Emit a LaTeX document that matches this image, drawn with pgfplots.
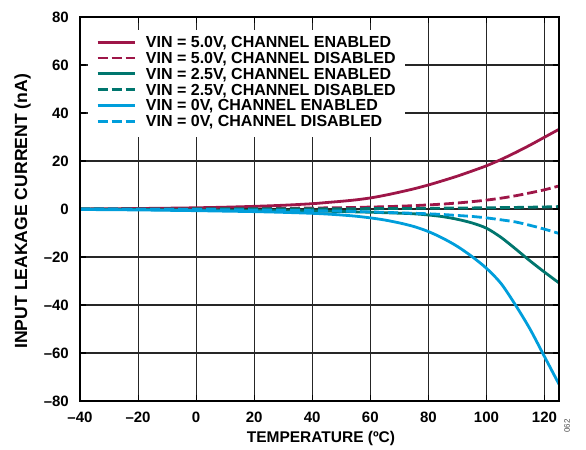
\documentclass[border=0pt]{standalone}
\usepackage{fontspec}
\setmainfont{Liberation Sans}
\usepackage{pgfplots}
\pgfplotsset{compat=1.18}
\definecolor{cred}{RGB}{158,22,72}
\definecolor{cteal}{RGB}{0,118,110}
\definecolor{cblue}{RGB}{0,158,219}
\tikzset{ddash/.style={dash pattern=on 10pt off 4pt}}
\pgfplotsset{
 layers/mylayers/.define layer set={axis background,axis grid,legendmask,axis ticks,pre main,main,axis lines,axis tick labels,axis descriptions,axis foreground}{
  grid style={/pgfplots/on layer=axis grid},
  tick style={/pgfplots/on layer=axis ticks},
  axis line style={/pgfplots/on layer=axis lines},
  label style={/pgfplots/on layer=axis descriptions},
  legend style={/pgfplots/on layer=axis descriptions},
  ticklabel style={/pgfplots/on layer=axis tick labels},
  axis background@ style={/pgfplots/on layer=axis background},
 },
}
\begin{document}
\begin{tikzpicture}
\begin{axis}[
 set layers=mylayers,
 at={(0pt,0pt)}, anchor=south west,
 scale only axis, width=479pt, height=384pt,
 xmin=-40, xmax=125, ymin=-80, ymax=80,
 xtick={-40,-20,...,120}, xticklabels={{--40},{--20},0,20,40,60,80,100,120},
 ytick={-80,-60,...,80}, yticklabels={{--80},{--60},{--40},{--20},0,20,40,60,80},
 grid=major,
 grid style={black!85, line width=1.1pt},
 axis line style={black, line width=1.8pt},
 major tick length=6pt,
 tick style={black, line width=1.1pt},
 xticklabel style={font=\fontsize{15}{15}\selectfont\bfseries, inner sep=0pt, anchor=north, yshift=-11pt},
 yticklabel style={font=\fontsize{15}{15}\selectfont\bfseries, inner sep=0pt, anchor=east, xshift=-11pt},
 xlabel={TEMPERATURE (ºC)},
 xlabel style={font=\fontsize{15.5}{15.5}\selectfont\bfseries, at={(axis description cs:0.503,-0.109)}, anchor=base},
 ylabel={INPUT LEAKAGE CURRENT (nA)},
 ylabel style={font=\fontsize{17.6}{17.6}\selectfont\bfseries, at={(axis description cs:-0.1106,0.494)}, anchor=base},
 legend style={at={(axis cs:-34.5,72.3)}, anchor=north west, fill=none, draw=none, inner sep=0pt,
   font=\fontsize{16}{16}\selectfont\bfseries, row sep=1.8pt, column sep=10pt,
   nodes={inner sep=0pt, text height=12pt, text depth=2pt}},
 legend cell align=left,
 legend image code/.code={\draw[ddash/.style={dash pattern=on 6.7pt off 3.3pt},#1] (0pt,0.5pt) -- (37pt,0.5pt);},
]
\addplot[fill=white, draw=none, on layer=legendmask, forget plot] coordinates {(-37.2,30) (71.8,30) (71.8,74.6) (-37.2,74.6)} -- cycle;
\addplot[cred, line width=2.8pt, smooth] coordinates {(-40,0) (-30,0.1) (-20,0.2) (-10,0.33) (0,0.5) (10,0.75) (20,1.1) (30,1.55) (40,2.2) (45,2.7) (50,3.2) (55,3.8) (60,4.6) (65,5.7) (70,7.0) (75,8.4) (80,10.0) (85,11.8) (90,13.7) (95,15.8) (100,18.0) (105,20.6) (110,23.5) (115,26.6) (120,29.9) (125,33.2)};
\addlegendentry{VIN = 5.0V, CHANNEL ENABLED}
\addplot[cred, line width=2.8pt, smooth, ddash] coordinates {(-40,0) (-30,0.03) (-20,0.05) (-10,0.08) (0,0.1) (10,0.15) (20,0.2) (30,0.3) (40,0.4) (45,0.47) (50,0.55) (55,0.66) (60,0.8) (65,0.95) (70,1.15) (75,1.4) (80,1.7) (85,2.05) (90,2.5) (95,3.05) (100,3.7) (105,4.5) (110,5.5) (115,6.7) (120,8.0) (125,9.6)};
\addlegendentry{VIN = 5.0V, CHANNEL DISABLED}
\addplot[cteal, line width=2.8pt, smooth] coordinates {(-40,0) (-30,-0.1) (-20,-0.2) (-10,-0.3) (0,-0.4) (10,-0.5) (20,-0.6) (30,-0.7) (40,-0.85) (45,-0.95) (50,-1.05) (55,-1.2) (60,-1.35) (65,-1.55) (70,-1.75) (75,-2.0) (80,-2.5) (85,-3.2) (90,-4.3) (95,-5.8) (100,-8.0) (105,-11.8) (110,-16.6) (115,-21.6) (120,-26.3) (125,-30.8)};
\addlegendentry{VIN = 2.5V, CHANNEL ENABLED}
\addplot[cteal, line width=2.8pt, smooth, ddash] coordinates {(-40,0) (-20,0.02) (0,0.04) (20,0.07) (40,0.1) (60,0.15) (80,0.3) (100,0.5) (110,0.65) (120,0.85) (125,1.0)};
\addlegendentry{VIN = 2.5V, CHANNEL DISABLED}
\addplot[cblue, line width=2.8pt, smooth] coordinates {(-40,-0.2) (-30,-0.3) (-20,-0.4) (-10,-0.55) (0,-0.7) (10,-0.9) (20,-1.1) (30,-1.4) (40,-1.8) (45,-2.1) (50,-2.5) (55,-3.0) (60,-3.7) (65,-4.6) (70,-5.8) (75,-7.3) (80,-9.4) (85,-12.2) (90,-15.6) (95,-19.8) (100,-24.7) (105,-31) (110,-40) (115,-50) (120,-61.5) (125,-73)};
\addlegendentry{VIN = 0V, CHANNEL ENABLED}
\addplot[cblue, line width=2.8pt, smooth, ddash] coordinates {(-40,0) (-30,-0.05) (-20,-0.1) (-10,-0.15) (0,-0.2) (10,-0.3) (20,-0.4) (30,-0.55) (40,-0.7) (45,-0.8) (50,-0.9) (55,-1.05) (60,-1.2) (65,-1.4) (70,-1.6) (75,-1.8) (80,-2.0) (85,-2.3) (90,-2.7) (95,-3.1) (100,-3.7) (105,-4.5) (110,-5.4) (115,-6.8) (120,-8.4) (125,-10.2)};
\addlegendentry{VIN = 0V, CHANNEL DISABLED}
\end{axis}
\path (-80pt,-47pt) rectangle (506pt,401pt);
\node[rotate=90, font=\fontsize{8}{8}\selectfont, text=black!70, anchor=center] at (487pt,-25pt) {062};
\end{tikzpicture}
\end{document}
